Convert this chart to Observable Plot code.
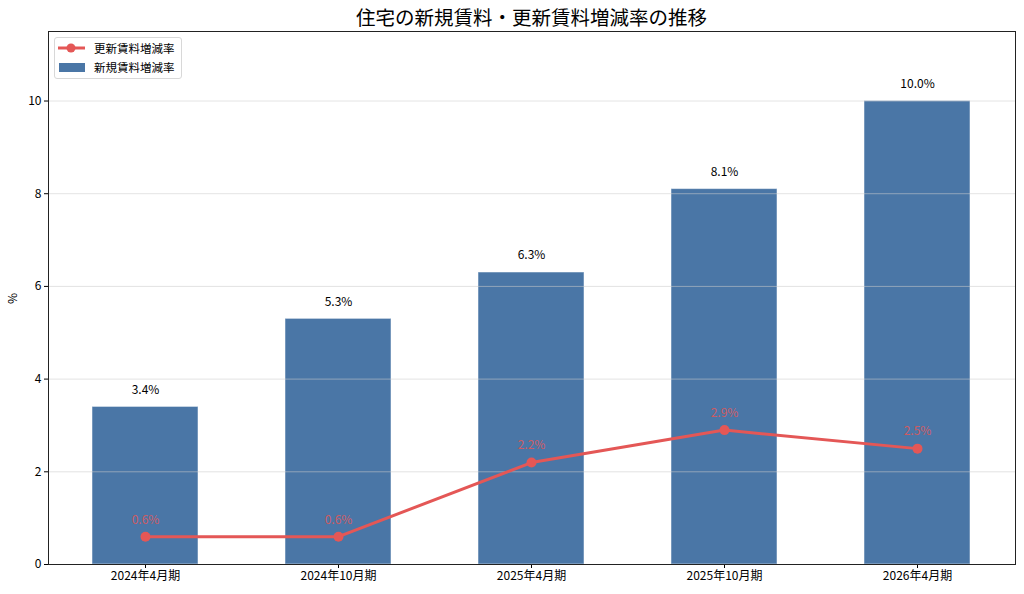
<!DOCTYPE html>
<html><head><meta charset="utf-8">
<script src="https://cdn.jsdelivr.net/npm/d3@7"></script>
<script src="https://cdn.jsdelivr.net/npm/@observablehq/plot@0.6"></script>
<style>
body{margin:0;background:#fff;font-family:"Noto Sans CJK JP","Noto Sans",sans-serif;}
#wrap{position:relative;width:1024px;height:594px;}
#title{position:absolute;left:48px;width:967px;top:3px;text-align:center;font-size:19.5px;line-height:28px;color:#000;}
#ylab{position:absolute;left:6px;top:290px;font-size:12px;transform:rotate(-90deg);color:#000;}
#legend{position:absolute;left:54px;top:37px;width:126px;height:40px;border:1px solid #d8d8d8;border-radius:3px;background:rgba(255,255,255,0.85);font-size:11.5px;}
.row{position:absolute;left:0;height:16px;display:flex;align-items:center;}
#chart{position:absolute;left:0;top:30px;}
</style></head>
<body>
<div id="wrap">
<div id="title">住宅の新規賃料・更新賃料増減率の推移</div>
<div id="chart"></div>
<div id="ylab">%</div>
<div id="legend">
 <div class="row" style="top:2px">
  <svg width="36" height="16"><line x1="3" x2="30" y1="8" y2="8" stroke="#e45756" stroke-width="3"/><circle cx="16" cy="8" r="4.5" fill="#e45756"/></svg>
  <span style="margin-left:3px">更新賃料増減率</span></div>
 <div class="row" style="top:21px">
  <svg width="36" height="16"><rect x="4" y="4" width="26" height="9" fill="#4a76a6"/></svg>
  <span style="margin-left:3px">新規賃料増減率</span></div>
</div>
</div>
<script>
const periods = ["2024年4月期","2024年10月期","2025年4月期","2025年10月期","2026年4月期"];
const newRent = [3.4, 5.3, 6.3, 8.1, 10.0];
const renewRent = [0.6, 0.6, 2.2, 2.9, 2.5];
const yTicks = [0, 2, 4, 6, 8, 10];

const data = periods.map((p, i) => ({period: p, newRent: newRent[i], renewRent: renewRent[i]}));
const fmt = v => v.toFixed(1) + "%";

const chart = Plot.plot({
  width: 1024,
  height: 564,
  marginLeft: 48,
  marginRight: 9,
  marginTop: 1,
  marginBottom: 30,
  style: {fontFamily: '"Noto Sans CJK JP","Noto Sans",sans-serif', fontSize: "12px", color: "#000", background: "#fff"},
  x: {type: "band", domain: periods, paddingInner: 0.45, paddingOuter: 0.225, label: null},
  y: {domain: [0, 11.5], label: null},
  marks: [
    Plot.barY(data, {x: "period", y: "newRent", fill: "#4a76a6", stroke: "#ffffff", strokeOpacity: 0.5, strokeWidth: 1}),
    Plot.ruleY(yTicks.filter(d => d > 0), {stroke: "#cccccc", strokeOpacity: 0.55, strokeWidth: 1}),
    Plot.text(data, {x: "period", y: "newRent", text: d => fmt(d.newRent), dy: -17, fill: "#000", fontSize: 12}),
    Plot.line(data, {x: "period", y: "renewRent", stroke: "#e45756", strokeWidth: 3}),
    Plot.dot(data, {x: "period", y: "renewRent", r: 5, fill: "#e45756"}),
    Plot.text(data, {x: "period", y: "renewRent", text: d => fmt(d.renewRent), dy: -17, fill: "#e45756", fillOpacity: 0.85, fontSize: 12}),
    Plot.axisY({ticks: yTicks, tickSize: 4, tickPadding: 3, label: null, fontSize: 12}),
    Plot.axisX({tickSize: 4, tickPadding: 3, label: null, fontSize: 12}),
    Plot.frame({stroke: "#222", strokeWidth: 1})
  ]
});
document.getElementById("chart").appendChild(chart);
</script>
</body></html>
